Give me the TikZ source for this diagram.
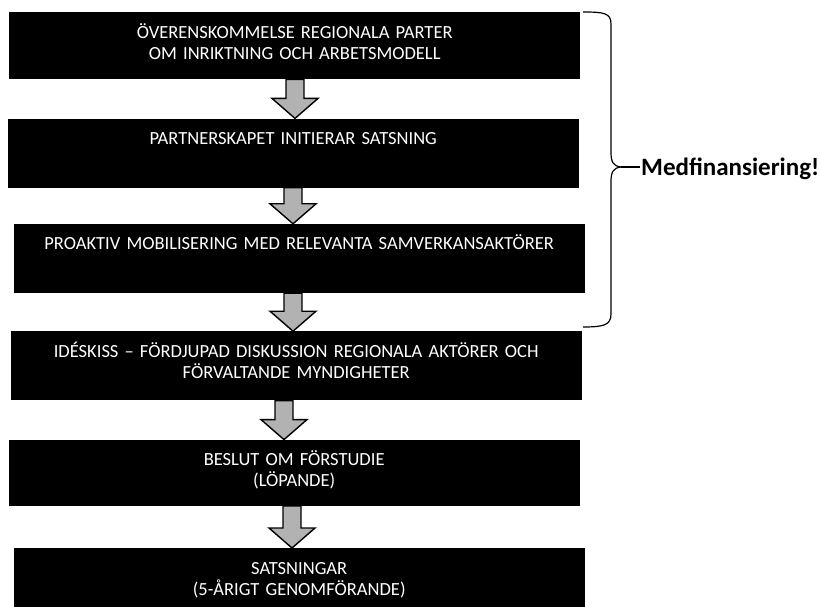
\documentclass[tikz,border=0pt]{standalone}
\usepackage{fontspec}
\setmainfont{Carlito}
\usepackage{tikz}
\usetikzlibrary{positioning,calc}

% block arrow from the bottom of #1 to the top of #2, centred at x = #3
\newcommand{\flowarrow}[3]{%
  \path (#3,0 |- #1.south) coordinate (atop) (#3,0 |- #2.north) coordinate (atip);
  \draw[blockarr] ($(atop)+(-9,0)$) -- ($(atip)+(-9,-20)$) -- ($(atip)+(-23,-20)$)
    -- (atip) -- ($(atip)+(23,-20)$) -- ($(atip)+(9,-20)$) -- ($(atop)+(9,0)$) -- cycle;
}

\begin{document}
\begin{tikzpicture}[
    x=1pt, y=-1pt,
    stage/.style={rectangle, fill=black, text=white, inner sep=0pt,
      text width=571pt, align=center, text height=26pt,
      font=\fontsize{18.5}{21}\selectfont},
    blockarr/.style={draw=black, fill=black!30, line width=1.4pt, line join=miter},
    brace/.style={draw=black, line width=1.2pt},
    fundlabel/.style={font=\fontsize{25}{29}\selectfont\bfseries, inner sep=1pt}
  ]
    \useasboundingbox (0,0) rectangle (820,607);

    % ── Main vertical chain ──────────────────────────────────
    \node[stage, text depth=41pt, anchor=north west] (agree) at (9,12)
      {ÖVERENSKOMMELSE REGIONALA PARTER\\OM INRIKTNING OCH ARBETSMODELL};
    \node[stage, text depth=43pt, below=39pt of agree, xshift=-1.5pt] (init)
      {PARTNERSKAPET INITIERAR SATSNING};
    \node[stage, text depth=43pt, below=36pt of init, xshift=6pt] (mobil)
      {PROAKTIV MOBILISERING MED RELEVANTA SAMVERKANSAKTÖRER};
    \node[stage, text depth=43pt, below=38pt of mobil, xshift=-3pt] (sketch)
      {IDÉSKISS – FÖRDJUPAD DISKUSSION REGIONALA AKTÖRER OCH\\FÖRVALTANDE MYNDIGHETER};
    \node[stage, text depth=40pt, below=39pt of sketch, xshift=-2pt] (prestudy)
      {BESLUT OM FÖRSTUDIE\\(LÖPANDE)};
    \node[stage, text depth=35pt, below=42pt of prestudy, xshift=5pt] (invest)
      {SATSNINGAR\\(5-ÅRIGT GENOMFÖRANDE)};

    % ── Block arrows ─────────────────────────────────────────
    \flowarrow{agree}{init}{295}
    \flowarrow{init}{mobil}{293}
    \flowarrow{mobil}{sketch}{293}
    \flowarrow{sketch}{prestudy}{284}
    \flowarrow{prestudy}{invest}{292}

    % ── Brace over the first three steps ─────────────────────
    \draw[brace] (583,12) .. controls (604,12) and (611,13) .. (611,24)
      -- (611,152) .. controls (611,162) and (613,166) .. (621,167)
      .. controls (613,168) and (611,172) .. (611,182)
      -- (611,314) .. controls (611,325) and (604,327) .. (583,327);
    \coordinate (bracetip) at (621,167);
    \node[fundlabel, anchor=west] (fund) at (640,169) {Medfinansiering!};
    \draw[brace] (bracetip) -- (fund.west |- bracetip);
  \end{tikzpicture}
\end{document}
